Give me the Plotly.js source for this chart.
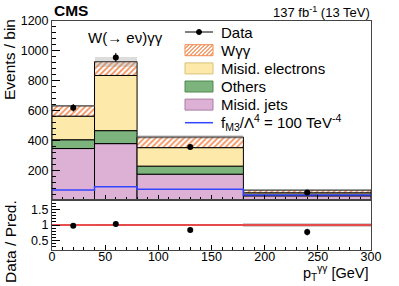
<!DOCTYPE html>
<html>
<head>
<meta charset="utf-8">
<script src="https://cdn.plot.ly/plotly-3.0.1.min.js"></script>
<style>html,body{margin:0;padding:0;background:#fff;}#plot{width:399px;height:286px;}</style>
</head>
<body>
<div id="plot"></div>
<script>
// ---- data ----
const binEdges   = [0, 40, 80, 180, 300];
const binCenters = [20, 60, 130, 240];
const binWidths  = [40, 40, 100, 120];
const misidJets      = [345, 378, 173, 28];
const others         = [59, 87, 54, 5];
const misidElectrons = [158, 370, 124, 15];
const wgg            = [69, 92, 71, 18];
const totalUnc       = [7, 33, 12, 5];
const dataVals       = [618, 955, 356, 51];
const dataErr        = [25, 31, 19, 7];
const eftVals        = [67, 89, 72, 33];
const xTickVals      = [0, 50, 100, 150, 200, 250, 300];
const yTickVals      = [200, 400, 600, 800, 1000, 1200];
const ratioTickVals  = [0.5, 1, 1.5];
const ratioTickText  = ['0.5', '1', '1.5'];

// ---- derived ----
const n = binCenters.length;
const base1 = misidJets.slice();
const base2 = base1.map((v, i) => v + others[i]);
const base3 = base2.map((v, i) => v + misidElectrons[i]);
const total = base3.map((v, i) => v + wgg[i]);
const ratio = dataVals.map((v, i) => v / total[i]);
const ratioErr = dataErr.map((v, i) => v / total[i]);
const relUnc = totalUnc.map((v, i) => v / total[i]);
const eftStep = eftVals.concat([eftVals[n - 1]]);

const colJets = '#ddb1d5', colOthers = '#7db37c', colEle = '#fde9aa', colW = '#f5894f', colEft = '#3344ff';
const FONT = 'Liberation Sans, Arial, sans-serif';

const traces = [
  {type: 'bar', x: binCenters, y: misidJets, width: binWidths, base: [0,0,0,0], name: 'Misid. jets',
   marker: {color: colJets, line: {color: '#000', width: 1}}, xaxis: 'x', yaxis: 'y', showlegend: false, hoverinfo: 'skip'},
  {type: 'bar', x: binCenters, y: others, width: binWidths, base: base1, name: 'Others',
   marker: {color: colOthers, line: {color: '#000', width: 1}}, xaxis: 'x', yaxis: 'y', showlegend: false, hoverinfo: 'skip'},
  {type: 'bar', x: binCenters, y: misidElectrons, width: binWidths, base: base2, name: 'Misid. electrons',
   marker: {color: colEle, line: {color: '#000', width: 1}}, xaxis: 'x', yaxis: 'y', showlegend: false, hoverinfo: 'skip'},
  {type: 'bar', x: binCenters, y: wgg, width: binWidths, base: base3, name: 'W\u03b3\u03b3',
   marker: {color: 'white', line: {color: '#000', width: 1},
            pattern: {shape: '/', fgcolor: colW, bgcolor: 'white', size: 4, solidity: 0.4}},
   xaxis: 'x', yaxis: 'y', showlegend: false, hoverinfo: 'skip'},
  {type: 'bar', x: binCenters, y: totalUnc.map(v => 2 * v), width: binWidths, base: total.map((v, i) => v - totalUnc[i]),
   name: 'Unc.', marker: {color: 'rgba(140,140,140,0.3)', line: {width: 0}},
   xaxis: 'x', yaxis: 'y', showlegend: false, hoverinfo: 'skip'},
  {type: 'scatter', mode: 'lines', x: binEdges, y: eftStep, line: {shape: 'hv', color: colEft, width: 1.5},
   name: 'fM3', xaxis: 'x', yaxis: 'y', showlegend: false, hoverinfo: 'skip'},
  {type: 'scatter', mode: 'markers', x: binCenters, y: dataVals, name: 'Data',
   marker: {color: '#000', size: 6}, error_y: {type: 'data', array: dataErr, visible: true, color: '#000', thickness: 1, width: 0},
   xaxis: 'x', yaxis: 'y', showlegend: false, hoverinfo: 'skip'},
  // ratio panel
  {type: 'bar', x: binCenters, y: relUnc.map(v => 2 * v), width: binWidths, base: relUnc.map(v => 1 - v),
   marker: {color: 'rgba(170,170,170,0.55)', line: {width: 0}}, xaxis: 'x2', yaxis: 'y2', showlegend: false, hoverinfo: 'skip'},
  {type: 'scatter', mode: 'lines', x: [binEdges[0], binEdges[n]], y: [1, 1], line: {color: 'rgba(232,60,60,0.9)', width: 2},
   xaxis: 'x2', yaxis: 'y2', showlegend: false, hoverinfo: 'skip'},
  {type: 'scatter', mode: 'markers', x: binCenters, y: ratio, marker: {color: '#000', size: 6},
   error_y: {type: 'data', array: ratioErr, visible: true, color: '#000', thickness: 1, width: 0},
   xaxis: 'x2', yaxis: 'y2', showlegend: false, hoverinfo: 'skip'}
];

// pixel -> paper helpers
const L = 52, R = 28, T = 21, B = 36, W = 399, H = 286;
const PW = W - L - R, PH = H - T - B;
const px = v => (v - L) / PW;
const py = v => (H - B - v) / PH;
const splitY = 50 / PH;

// manual legend
const shapes = [];
const annotations = [];
const legX0 = 185, legX1 = 213, legTextX = 219;
const rows = [32, 50.2, 68.4, 86.5, 104.6, 122.7];
const legLabels = ['Data', 'W\u03b3\u03b3', 'Misid. electrons', 'Others', 'Misid. jets',
                   'f<sub>M3</sub>/\u039b<sup>4</sup> = 100 TeV<sup>-4</sup>'];
legLabels.forEach((t, i) => annotations.push({xref: 'paper', yref: 'paper', x: px(legTextX), y: py(rows[i]),
  xanchor: 'left', yanchor: 'middle', text: t, showarrow: false, font: {family: FONT, size: 15, color: '#000'}}));
// data symbol
shapes.push({type: 'line', xref: 'paper', yref: 'paper', x0: px(legX0), x1: px(legX1), y0: py(rows[0]), y1: py(rows[0]), line: {color: '#000', width: 1}});
shapes.push({type: 'circle', xref: 'paper', yref: 'paper', x0: px(196.5), x1: px(201.5), y0: py(rows[0] + 2.5), y1: py(rows[0] - 2.5), fillcolor: '#000', line: {color: '#000', width: 1}});
// hatched box
(function () {
  const x0 = legX0, x1 = legX1, y0 = rows[1] - 5.5, y1 = rows[1] + 5.5;
  let d = '';
  for (let k = x0 + y0; k <= x1 + y1; k += 4) {
    const xa = Math.max(x0, k - y1), xb = Math.min(x1, k - y0);
    if (xa < xb) d += 'M' + px(xa) + ',' + py(k - xa) + 'L' + px(xb) + ',' + py(k - xb);
  }
  shapes.push({type: 'path', xref: 'paper', yref: 'paper', path: d, line: {color: colW, width: 1.2}});
  shapes.push({type: 'rect', xref: 'paper', yref: 'paper', x0: px(x0), x1: px(x1), y0: py(y1), y1: py(y0), line: {color: colW, width: 1}});
})();
[[colEle, '#d9c27a'], [colOthers, '#4f8a4f'], [colJets, '#a97ca1']].forEach((c, j) => {
  const r = rows[2 + j];
  shapes.push({type: 'rect', xref: 'paper', yref: 'paper', x0: px(legX0), x1: px(legX1), y0: py(r + 5.5), y1: py(r - 5.5),
    fillcolor: c[0], line: {color: c[1], width: 1}});
});
shapes.push({type: 'line', xref: 'paper', yref: 'paper', x0: px(legX0), x1: px(legX1), y0: py(rows[5]), y1: py(rows[5]), line: {color: colEft, width: 1.5}});

// text annotations
annotations.push({xref: 'paper', yref: 'paper', x: 0, y: py(10.5), xanchor: 'left', yanchor: 'middle', showarrow: false,
  text: '<b>CMS</b>', font: {family: FONT, size: 15.5, color: '#000'}});
annotations.push({xref: 'paper', yref: 'paper', x: px(372), y: py(12), xanchor: 'right', yanchor: 'middle', showarrow: false,
  text: '137 fb<sup>-1</sup> (13 TeV)', font: {family: FONT, size: 13, color: '#000'}});
annotations.push({xref: 'paper', yref: 'paper', x: px(125), y: py(37), xanchor: 'center', yanchor: 'middle', showarrow: false,
  text: 'W(\u2192 e\u03bd)\u03b3\u03b3', font: {family: FONT, size: 15, color: '#000'}});
annotations.push({xref: 'paper', yref: 'paper', x: px(10), y: py(60), xanchor: 'center', yanchor: 'middle', showarrow: false,
  textangle: -90, text: 'Events / bin', font: {family: FONT, size: 15.5, color: '#000'}});
annotations.push({xref: 'paper', yref: 'paper', x: px(10), y: py(242), xanchor: 'center', yanchor: 'middle', showarrow: false,
  textangle: -90, text: 'Data / Pred.', font: {family: FONT, size: 15.5, color: '#000'}});
annotations.push({xref: 'paper', yref: 'paper', x: px(371), y: py(273), xanchor: 'right', yanchor: 'middle', showarrow: false,
  text: 'p<sub>T</sub><sup>\u03b3\u03b3</sup> [GeV]', font: {family: FONT, size: 14.5, color: '#000'}});

const axCommon = {showgrid: false, zeroline: false, showline: true, mirror: true, linecolor: '#444', linewidth: 1,
  ticks: 'inside', tickcolor: '#000', tickwidth: 1, tickfont: {family: FONT, size: 12.5, color: '#000'}};

const layout = {
  width: W, height: H, margin: {l: L, r: R, t: T, b: B, pad: 0},
  paper_bgcolor: '#fff', plot_bgcolor: '#fff', barmode: 'overlay', bargap: 0, showlegend: false,
  font: {family: FONT, color: '#000'},
  xaxis: Object.assign({}, axCommon, {domain: [0, 1], range: [0, 300], anchor: 'y', showticklabels: false,
    tickvals: xTickVals, ticklen: 5, minor: {ticks: 'inside', ticklen: 3, dtick: 10, tickcolor: '#000'}}),
  yaxis: Object.assign({}, axCommon, {domain: [splitY, 1], range: [0, 1200], anchor: 'x',
    tickvals: yTickVals, ticklen: 8, minor: {ticks: 'inside', ticklen: 4, dtick: 40, tickcolor: '#000'}}),
  xaxis2: Object.assign({}, axCommon, {domain: [0, 1], range: [0, 300], anchor: 'y2', matches: 'x',
    tickvals: xTickVals, ticklen: 5, ticklabelstandoff: -5, minor: {ticks: 'inside', ticklen: 3, dtick: 10, tickcolor: '#000'}}),
  yaxis2: Object.assign({}, axCommon, {domain: [0, splitY], range: [0.2, 1.8], anchor: 'x2',
    tickvals: ratioTickVals, ticktext: ratioTickText, ticklen: 8, minor: {ticks: 'inside', ticklen: 4, dtick: 0.1, tickcolor: '#000'}}),
  shapes: shapes,
  annotations: annotations
};

Plotly.newPlot('plot', traces, layout, {staticPlot: true, displayModeBar: false});
</script>
</body>
</html>
